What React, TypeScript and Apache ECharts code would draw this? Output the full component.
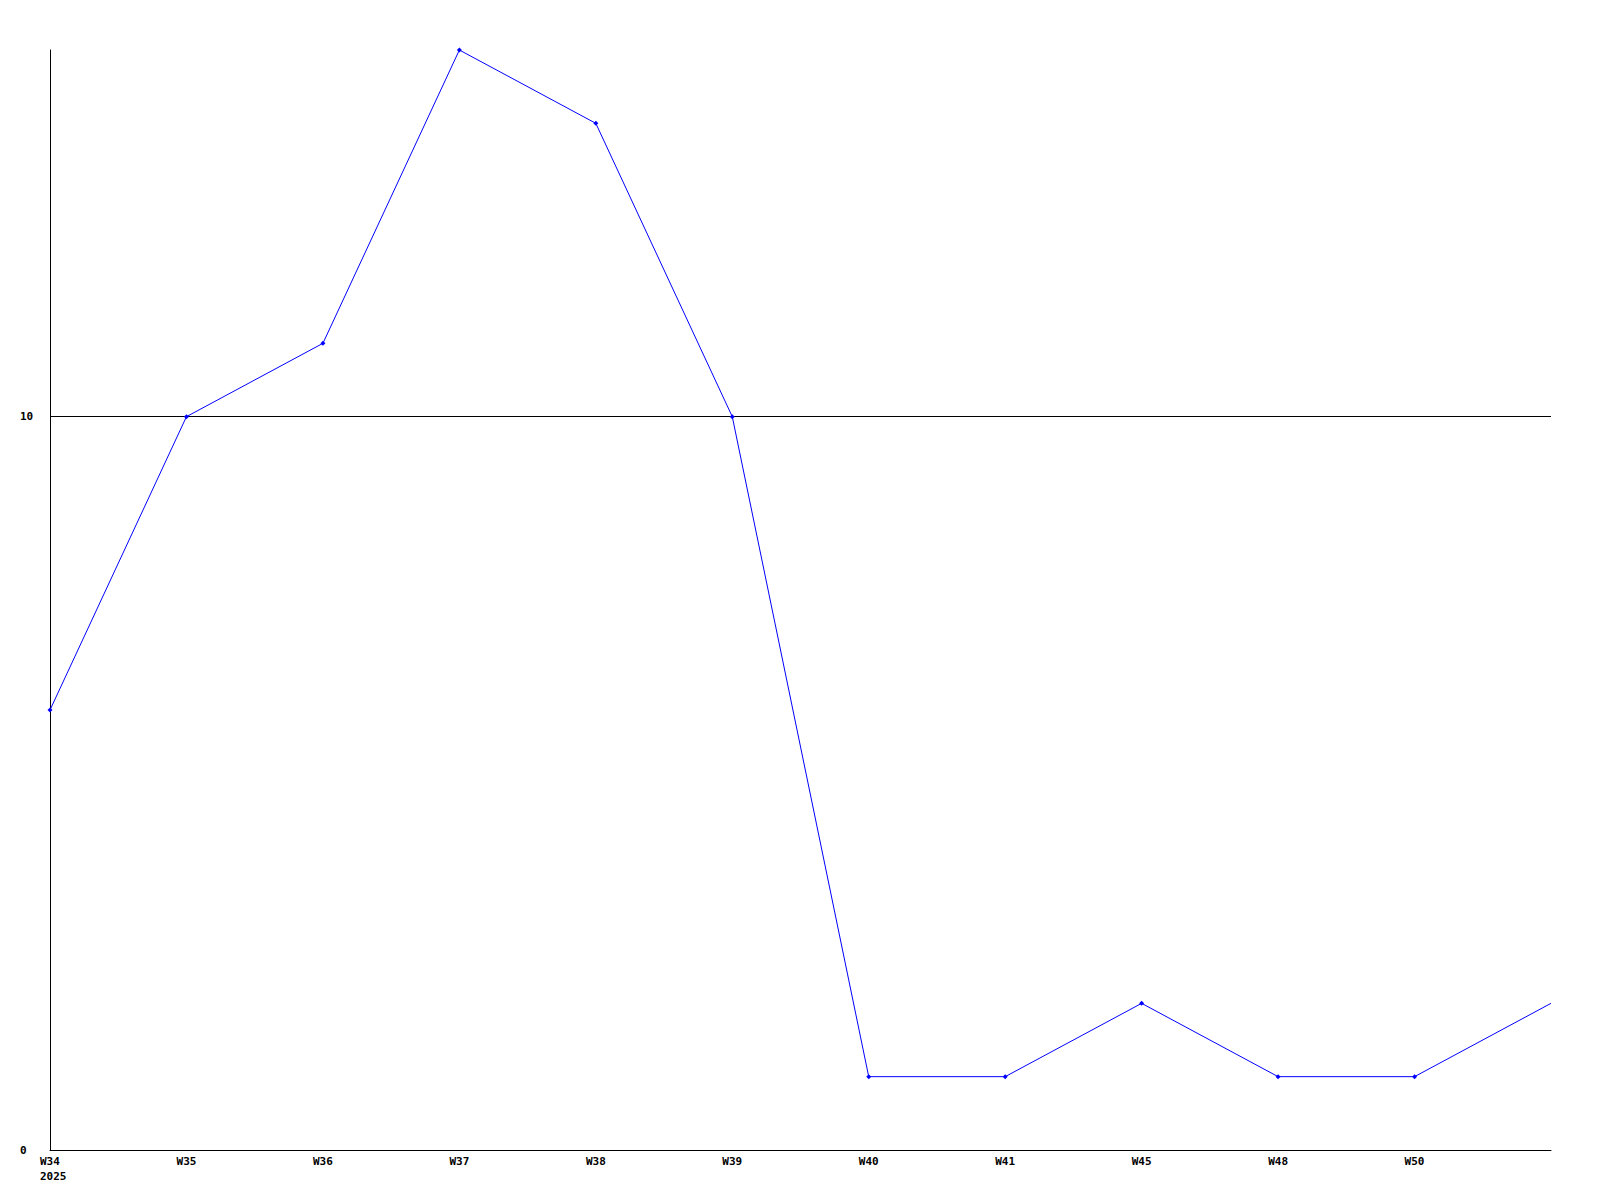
import React, { useEffect, useRef } from "react";
import * as echarts from "echarts";

const categories = ["W34", "W35", "W36", "W37", "W38", "W39", "W40", "W41", "W45", "W48", "W50", ""];
const values = [6, 10, 11, 15, 14, 10, 1, 1, 2, 1, 1, 2];
const yearLabel = "2025";

export default function App() {
  const ref = useRef<HTMLDivElement>(null);
  useEffect(() => {
    if (!ref.current) return;
    const chart = echarts.init(ref.current, null, { renderer: "svg" });
    const font = "'DejaVu Sans Mono', monospace";
    const lastIdx = values.length - 1;
    chart.setOption({
      animation: false,
      backgroundColor: "#ffffff",
      grid: { left: 50, right: 49, top: 50, bottom: 50 },
      xAxis: {
        type: "category",
        data: categories,
        boundaryGap: false,
        axisLine: { lineStyle: { color: "#000", width: 1 } },
        axisTick: { show: false },
        splitLine: { show: false },
        axisLabel: {
          interval: 0,
          margin: 4,
          color: "#000",
          fontFamily: font,
          fontWeight: "bold",
          fontSize: 11,
          lineHeight: 15,
          formatter: (v: string, i: number) =>
            i === 0 ? `{l|${v}}\n{l|${yearLabel}}` : v,
          rich: {
            l: {
              width: 20,
              align: "left",
              color: "#000",
              fontFamily: font,
              fontWeight: "bold",
              fontSize: 11,
              lineHeight: 15,
            },
          },
        },
      },
      yAxis: {
        type: "value",
        min: 0,
        max: 15,
        interval: 10,
        axisLine: { show: true, lineStyle: { color: "#000", width: 1 } },
        axisTick: { show: false },
        splitLine: {
          show: true,
          showMinLine: false,
          showMaxLine: false,
          lineStyle: { color: "#000", width: 1 },
        },
        axisLabel: {
          align: "left",
          margin: 30,
          color: "#000",
          fontFamily: font,
          fontWeight: "bold",
          fontSize: 11,
          showMaxLabel: false,
        },
      },
      series: [
        {
          type: "line",
          data: values.map((v, i) =>
            i === lastIdx ? { value: v, symbol: "none" } : v
          ),
          symbol: "diamond",
          symbolSize: 5,
          showAllSymbol: true,
          lineStyle: { color: "#0000ff", width: 1 },
          itemStyle: { color: "#0000ff" },
        },
      ],
    });
    return () => chart.dispose();
  }, []);
  return (
    <div
      ref={ref}
      style={{ position: "fixed", left: 0, top: 0, width: 1600, height: 1200 }}
    />
  );
}
